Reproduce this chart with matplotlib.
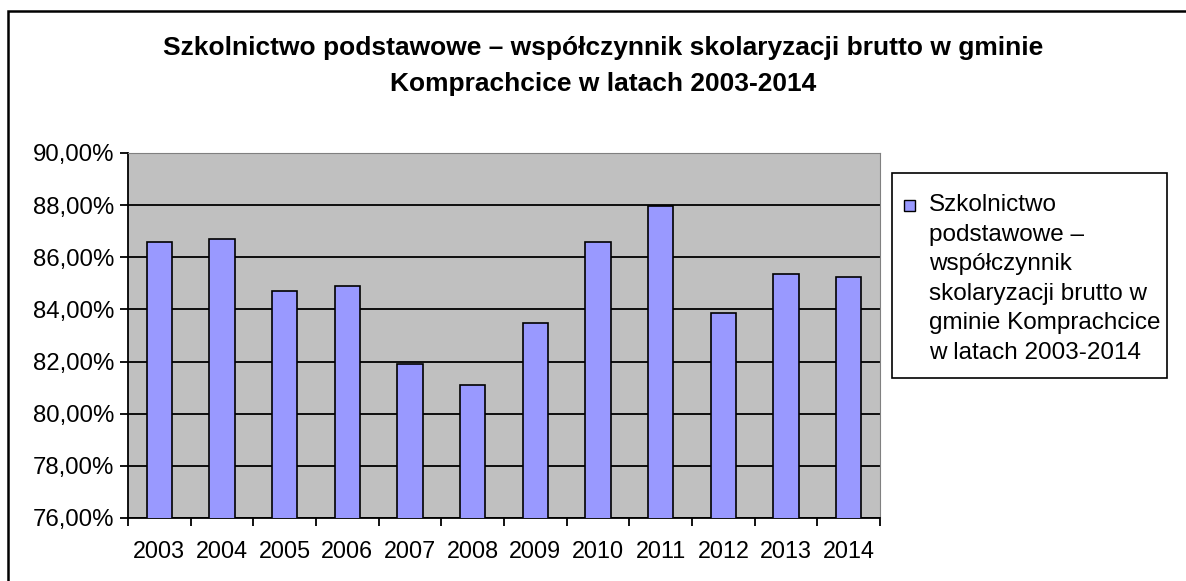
import numpy as np
import matplotlib
matplotlib.use('Agg')
import matplotlib.pyplot as plt
from matplotlib.patches import Rectangle
from matplotlib.ticker import FuncFormatter, FixedLocator

plt.rcParams['font.family'] = ['Liberation Sans', 'DejaVu Sans']

# data
years  = ['2003', '2004', '2005', '2006', '2007', '2008',
          '2009', '2010', '2011', '2012', '2013', '2014']
values = [86.59, 86.70, 84.70, 84.89, 81.92, 81.09,
          83.49, 86.59, 87.97, 83.86, 85.37, 85.25]
yticks = [76, 78, 80, 82, 84, 86, 88, 90]

title = ('Szkolnictwo podstawowe \u2013 współczynnik skolaryzacji brutto w gminie\n'
         'Komprachcice w latach 2003-2014')
legend_label = ('Szkolnictwo\npodstawowe \u2013\nwspółczynnik\n'
                'skolaryzacji brutto w\ngminie Komprachcice\nw latach 2003-2014')

bar_color = '#9999FF'
W, H = 1186, 581

fig = plt.figure(figsize=(W / 100, H / 100), dpi=100)
ax = fig.add_axes([128 / W, 1 - 518 / H, (880 - 128) / W, (518 - 153) / H])

x = np.arange(len(years))
ax.set_facecolor('#C0C0C0')
ax.bar(x, values, width=0.4, bottom=0, color=bar_color,
       edgecolor='black', linewidth=1.2, zorder=3)

ax.set_xlim(-0.5, len(years) - 0.5)
ax.set_ylim(76, 90)
ax.set_yticks(yticks)
ax.yaxis.set_major_formatter(FuncFormatter(lambda v, p: ('%.2f%%' % v).replace('.', ',')))
ax.grid(axis='y', color='black', linewidth=1.3, zorder=1)

# x ticks on category boundaries, labels in the middle
ax.xaxis.set_major_locator(FixedLocator(np.arange(-0.5, len(years), 1.0)))
ax.xaxis.set_major_formatter(FuncFormatter(lambda v, p: ''))
ax.xaxis.set_minor_locator(FixedLocator(x))
ax.set_xticklabels(years, minor=True)
ax.tick_params(axis='x', which='minor', length=0, pad=16, labelsize=16.8)
ax.tick_params(axis='x', which='major', length=6, width=1.3, direction='out')
ax.tick_params(axis='y', length=6, width=1.3, direction='out', pad=4, labelsize=17.3)

ax.spines['left'].set_color('black')
ax.spines['bottom'].set_color('black')
ax.spines['left'].set_linewidth(1.3)
ax.spines['bottom'].set_linewidth(1.3)
ax.spines['top'].set_color('#808080')
ax.spines['right'].set_color('#808080')
ax.set_axisbelow(True)

# title
fig.text(603 / W, 1 - 66 / H, title, ha='center', va='center',
         fontsize=19, fontweight='bold', linespacing=1.6)

# legend box drawn by hand so the marker sits on the first line
fig.add_artist(Rectangle((892 / W, 1 - 378 / H), (1167 - 892) / W, (378 - 173) / H,
                         transform=fig.transFigure, facecolor='white',
                         edgecolor='black', linewidth=1.2))
fig.add_artist(Rectangle((904 / W, 1 - 211 / H), 11 / W, 11 / H,
                         transform=fig.transFigure, facecolor=bar_color,
                         edgecolor='black', linewidth=1))
fig.text(929 / W, 1 - 279 / H, legend_label, ha='left', va='center',
         fontsize=17.5, linespacing=1.44)

# outer chart border
fig.add_artist(Rectangle((8 / W, -0.1), 1.2, 1 - 11 / H + 0.1,
                         transform=fig.transFigure, facecolor='none',
                         edgecolor='black', linewidth=1.8))

fig.savefig('out.png', dpi=100)
